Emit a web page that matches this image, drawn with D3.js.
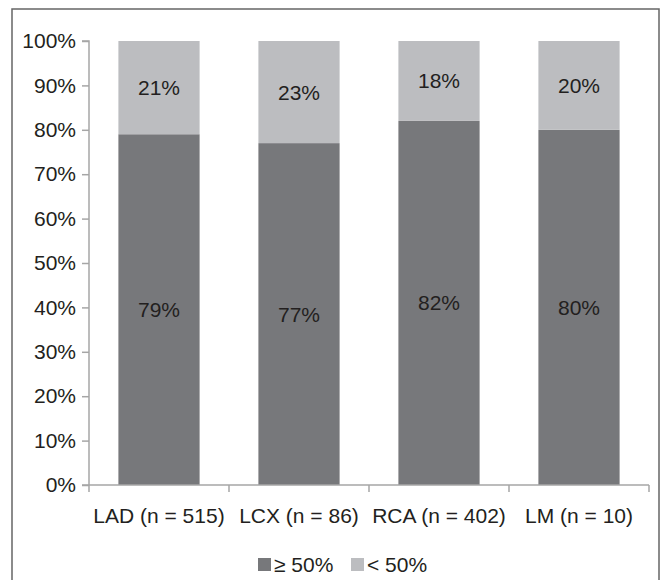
<!DOCTYPE html>
<html><head><meta charset="utf-8">
<script src="https://cdn.jsdelivr.net/npm/d3@7"></script>
<style>body{margin:0;background:#fff}svg{display:block}text{font-family:"Liberation Sans",Arial,sans-serif;fill:#231f20}</style>
</head><body><svg id="c" width="665" height="580"></svg>
<script>
const categories = ["LAD (n = 515)", "LCX (n = 86)", "RCA (n = 402)", "LM (n = 10)"];
const seriesNames = ["\u2265 50%", "< 50%"];
const above50 = [79, 77, 82, 80];
const below50 = [21, 23, 18, 20];
const yTicks = [0,10,20,30,40,50,60,70,80,90,100];
const colors = ["#77787b", "#bcbdc0"];

const svg = d3.select("#c");
// border
svg.append("path").attr("d","M12,585V9H659V585").attr("fill","none").attr("stroke","#666").attr("stroke-width",1.5);

const x = d3.scaleBand().domain(categories).range([89,649]).paddingInner(0.42).paddingOuter(0.21);
const y = d3.scaleLinear().domain([0,100]).range([485,41]);

const rows = categories.map((c,i)=>({cat:c, a:above50[i], b:below50[i]}));
const stack = d3.stack().keys(["a","b"])(rows);

const g = svg.append("g");
stack.forEach((layer,li)=>{
  g.selectAll(null).data(layer).enter().append("rect")
    .attr("x",d=>x(d.data.cat)).attr("width",x.bandwidth())
    .attr("y",d=>y(d[1])).attr("height",d=>y(d[0])-y(d[1]))
    .attr("fill",colors[li]);
  g.selectAll(null).data(layer).enter().append("text")
    .attr("x",d=>x(d.data.cat)+x.bandwidth()/2)
    .attr("y",d=>(y(d[0])+y(d[1]))/2+7.5)
    .attr("text-anchor","middle").attr("font-size",21)
    .text(d=>(d[1]-d[0])+"%");
});

// y axis
const ya = svg.append("g").attr("transform","translate(89,0)")
  .call(d3.axisLeft(y).tickValues(yTicks).tickSize(7).tickPadding(6).tickFormat(d=>d+"%"));
ya.select(".domain").attr("stroke","#a6a6a6").attr("stroke-width",1.5).attr("d","M-7,41H0V485");
ya.selectAll(".tick line").attr("stroke","#a6a6a6").attr("stroke-width",1.5);
ya.selectAll("text").attr("font-size",21).attr("font-family","Liberation Sans, Arial, sans-serif").attr("fill","#231f20");

// x axis
const xa = svg.append("g").attr("transform","translate(0,485)");
xa.append("line").attr("x1",82).attr("x2",649).attr("stroke","#a6a6a6").attr("stroke-width",1.5);
const edges = d3.range(categories.length+1).map(i=>89+i*x.step());
xa.selectAll(null).data(edges).enter().append("line")
  .attr("x1",d=>d).attr("x2",d=>d).attr("y1",0).attr("y2",7)
  .attr("stroke","#a6a6a6").attr("stroke-width",1.5);
xa.selectAll(null).data(categories).enter().append("text")
  .attr("x",d=>x(d)+x.bandwidth()/2).attr("y",38)
  .attr("text-anchor","middle").attr("font-size",21).text(d=>d);

// legend
const lg = svg.append("g");
const lx = [258, 351];
seriesNames.forEach((n,i)=>{
  lg.append("rect").attr("x",lx[i]).attr("y",558).attr("width",13).attr("height",13).attr("fill",colors[i]);
  lg.append("text").attr("x",lx[i]+16).attr("y",572).attr("font-size",21).text(n);
});
</script></body></html>
